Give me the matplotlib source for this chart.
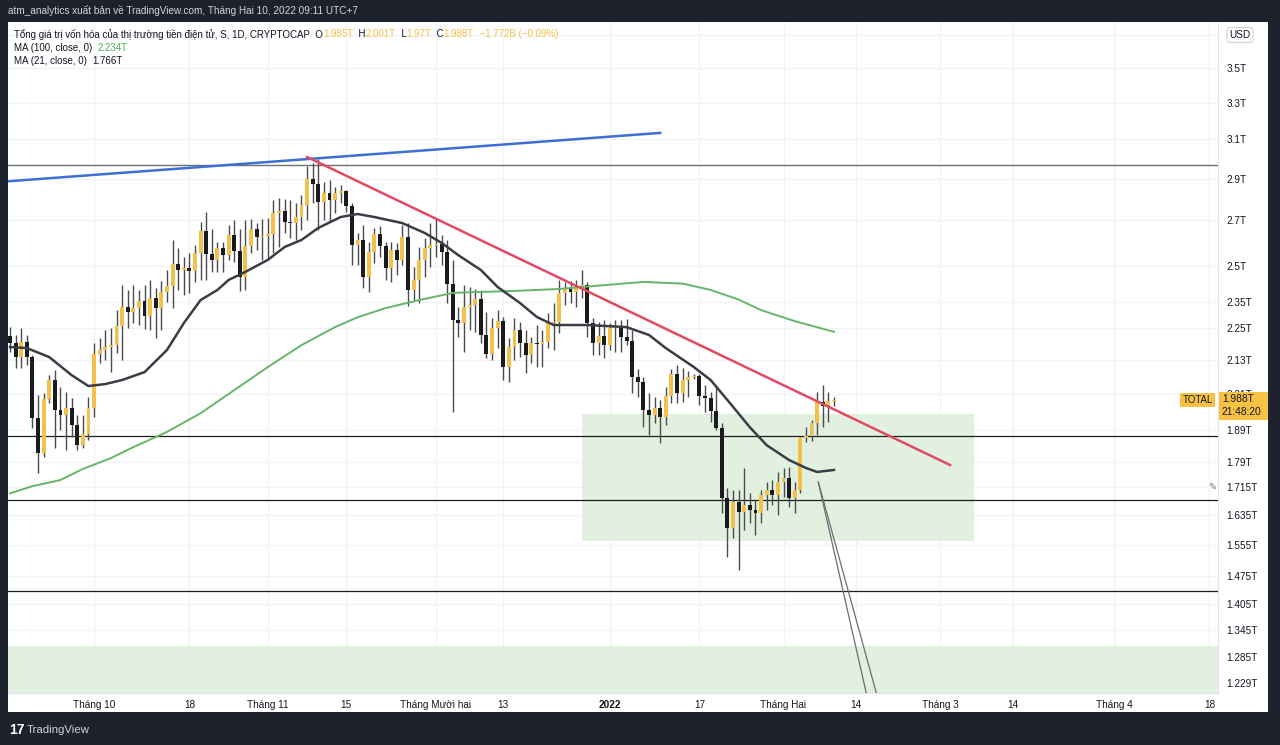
import matplotlib
matplotlib.use('Agg')
import matplotlib.pyplot as plt
import matplotlib.dates as mdates
import numpy as np
import pandas as pd
from matplotlib.patches import Rectangle
from matplotlib.ticker import NullLocator
from matplotlib.transforms import IdentityTransform

plt.rcParams['font.family'] = ['Liberation Sans', 'Noto Sans', 'DejaVu Sans']

W, H = 1280, 745

# daily candles, values in trillions USD
dates = pd.date_range('2021-09-16', '2022-02-10', freq='D')

opens = [2.218, 2.192, 2.140, 2.196, 2.140, 1.928, 1.818, 1.992, 2.058, 1.955,
         1.938, 1.962, 1.906, 1.842, 1.877, 1.962, 2.151, 2.166, 2.177, 2.184,
         2.256, 2.330, 2.310, 2.326, 2.354, 2.294, 2.366, 2.326, 2.391, 2.415,
         2.508, 2.482, 2.491, 2.478, 2.555, 2.652, 2.551, 2.525, 2.576, 2.546,
         2.634, 2.564, 2.452, 2.585, 2.662, 2.625, 2.630, 2.640, 2.735, 2.744,
         2.693, 2.688, 2.716, 2.772, 2.898, 2.873, 2.786, 2.830, 2.796, 2.830,
         2.840, 2.767, 2.590, 2.612, 2.452, 2.559, 2.639, 2.585, 2.491, 2.568,
         2.525, 2.625, 2.399, 2.440, 2.525, 2.576, 2.590, 2.594, 2.559, 2.425,
         2.279, 2.267, 2.330, 2.338, 2.362, 2.222, 2.151, 2.248, 2.275, 2.104,
         2.177, 2.241, 2.192, 2.148, 2.192, 2.188, 2.196, 2.267, 2.271, 2.387,
         2.407, 2.392, 2.411, 2.418, 2.267, 2.192, 2.218, 2.184, 2.249, 2.252,
         2.214, 2.199, 2.068, 2.051, 1.955, 1.938, 1.962, 1.932, 2.002, 2.079,
         2.013, 2.058, 2.069, 2.072, 2.002, 1.995, 1.952, 1.896, 1.683, 1.599,
         1.672, 1.643, 1.664, 1.649, 1.642, 1.692, 1.706, 1.692, 1.730, 1.742,
         1.683, 1.706, 1.864, 1.870, 1.912, 1.982, 1.968, 1.985]
highs = [2.252, 2.222, 2.249, 2.222, 2.148, 2.006, 2.013, 2.075, 2.093, 2.034,
         2.016, 1.995, 1.938, 1.938, 1.999, 2.192, 2.210, 2.241, 2.249, 2.318,
         2.419, 2.399, 2.419, 2.399, 2.419, 2.440, 2.407, 2.436, 2.482, 2.612,
         2.576, 2.538, 2.555, 2.590, 2.693, 2.740, 2.662, 2.603, 2.603, 2.679,
         2.702, 2.662, 2.702, 2.707, 2.688, 2.707, 2.711, 2.796, 2.806, 2.801,
         2.796, 2.782, 2.820, 2.962, 2.978, 3.000, 2.883, 2.893, 2.858, 2.870,
         2.844, 2.782, 2.643, 2.679, 2.603, 2.665, 2.674, 2.603, 2.603, 2.599,
         2.679, 2.688, 2.495, 2.581, 2.621, 2.688, 2.711, 2.634, 2.612, 2.525,
         2.330, 2.419, 2.411, 2.403, 2.399, 2.310, 2.287, 2.318, 2.291, 2.210,
         2.287, 2.271, 2.241, 2.214, 2.260, 2.241, 2.306, 2.346, 2.440, 2.432,
         2.436, 2.440, 2.482, 2.430, 2.287, 2.271, 2.279, 2.267, 2.279, 2.279,
         2.283, 2.241, 2.097, 2.069, 2.013, 1.999, 1.989, 2.034, 2.097, 2.111,
         2.100, 2.090, 2.080, 2.078, 2.041, 2.016, 2.041, 1.912, 1.712, 1.706,
         1.706, 1.772, 1.697, 1.678, 1.706, 1.730, 1.736, 1.760, 1.772, 1.775,
         1.730, 1.867, 1.900, 1.922, 2.016, 2.041, 2.016, 2.001]
lows = [2.159, 2.100, 2.100, 2.111, 1.896, 1.757, 1.805, 1.979, 1.833, 1.890,
        1.827, 1.868, 1.827, 1.833, 1.858, 1.932, 2.118, 2.129, 2.086, 2.155,
        2.129, 2.249, 2.267, 2.260, 2.245, 2.241, 2.210, 2.241, 2.350, 2.326,
        2.399, 2.379, 2.387, 2.432, 2.440, 2.440, 2.474, 2.474, 2.474, 2.525,
        2.516, 2.395, 2.399, 2.555, 2.568, 2.525, 2.534, 2.555, 2.581, 2.643,
        2.621, 2.612, 2.657, 2.702, 2.782, 2.657, 2.702, 2.693, 2.735, 2.780,
        2.740, 2.504, 2.504, 2.407, 2.391, 2.512, 2.538, 2.440, 2.432, 2.461,
        2.504, 2.334, 2.358, 2.346, 2.452, 2.495, 2.538, 2.504, 2.346, 1.948,
        2.214, 2.159, 2.241, 2.233, 2.192, 2.137, 2.129, 2.173, 2.058, 2.051,
        2.129, 2.140, 2.082, 2.118, 2.104, 2.104, 2.173, 2.166, 2.230, 2.338,
        2.346, 2.330, 2.366, 2.214, 2.148, 2.148, 2.137, 2.166, 2.159, 2.159,
        2.184, 2.013, 1.999, 1.899, 1.874, 1.912, 1.849, 1.906, 1.979, 1.979,
        1.982, 1.999, 2.060, 1.972, 1.948, 1.915, 1.890, 1.641, 1.523, 1.572,
        1.489, 1.594, 1.613, 1.580, 1.613, 1.649, 1.664, 1.635, 1.686, 1.658,
        1.641, 1.697, 1.852, 1.855, 1.874, 1.899, 1.915, 1.970]
closes = [2.192, 2.140, 2.196, 2.140, 1.928, 1.818, 1.992, 2.058, 1.955, 1.938,
          1.962, 1.906, 1.842, 1.877, 1.962, 2.151, 2.166, 2.177, 2.184, 2.256,
          2.330, 2.310, 2.326, 2.354, 2.294, 2.366, 2.326, 2.391, 2.415, 2.508,
          2.482, 2.491, 2.478, 2.555, 2.652, 2.551, 2.525, 2.576, 2.546, 2.634,
          2.564, 2.452, 2.585, 2.662, 2.625, 2.630, 2.640, 2.735, 2.744, 2.693,
          2.688, 2.716, 2.772, 2.898, 2.873, 2.786, 2.830, 2.796, 2.830, 2.840,
          2.767, 2.590, 2.612, 2.452, 2.559, 2.639, 2.585, 2.491, 2.568, 2.525,
          2.625, 2.399, 2.440, 2.525, 2.576, 2.590, 2.594, 2.559, 2.425, 2.279,
          2.267, 2.330, 2.338, 2.362, 2.222, 2.151, 2.248, 2.275, 2.104, 2.177,
          2.241, 2.192, 2.148, 2.192, 2.188, 2.196, 2.267, 2.271, 2.387, 2.407,
          2.392, 2.411, 2.418, 2.267, 2.192, 2.218, 2.184, 2.249, 2.252, 2.214,
          2.199, 2.068, 2.051, 1.955, 1.938, 1.962, 1.932, 2.002, 2.079, 2.013,
          2.058, 2.069, 2.072, 2.002, 1.995, 1.952, 1.896, 1.683, 1.599, 1.672,
          1.643, 1.664, 1.649, 1.642, 1.692, 1.706, 1.692, 1.730, 1.742, 1.683,
          1.706, 1.864, 1.870, 1.912, 1.982, 1.968, 1.985, 1.988]

# moving averages (index into dates, value)
ma21_idx = [0, 3, 7, 11, 14, 17, 20, 24, 28, 31, 34, 37, 39, 42, 46, 49, 52, 55, 59, 62,
            65, 70, 74, 77, 80, 84, 87, 91, 94, 97, 103, 110, 114, 117, 122, 125, 128, 132,
            135, 139, 142, 144, 147]
ma21_val = [2.177, 2.173, 2.140, 2.075, 2.037, 2.044, 2.058, 2.086, 2.166, 2.267,
            2.358, 2.399, 2.440, 2.474, 2.525, 2.581, 2.612, 2.666, 2.716, 2.730,
            2.716, 2.688, 2.643, 2.599, 2.545, 2.482, 2.411, 2.346, 2.291, 2.260,
            2.260, 2.252, 2.222, 2.173, 2.104, 2.058, 1.989, 1.899, 1.842, 1.796,
            1.772, 1.760, 1.766]
ma100_idx = [0, 4, 9, 13, 18, 22, 28, 34, 40, 46, 52, 58, 62, 67, 73, 79, 84, 90, 98,
             102, 113, 120, 125, 130, 134, 140, 147]
ma100_val = [1.697, 1.718, 1.736, 1.769, 1.802, 1.836, 1.884, 1.945, 2.023, 2.104,
             2.184, 2.252, 2.290, 2.326, 2.358, 2.387, 2.391, 2.395, 2.403, 2.411,
             2.432, 2.425, 2.399, 2.360, 2.318, 2.275, 2.234]

# drawings on the chart
blue_line_dates = ['2021-09-15 00:00', '2022-01-10 00:00']
blue_line_prices = [2.885, 3.134]
red_line_dates = ['2021-11-08 00:00', '2022-03-02 17:00']
red_line_prices = [3.008, 1.781]
top_level = 2.967
levels = [1.871, 1.678, 1.437]
zone_dates = ['2021-12-27 00:00', '2022-03-07 00:00']
zone_prices = [1.564, 1.942]
low_zone_prices = [1.0, 1.309]
path_start = ('2022-02-07 05:00', 1.730)
path_ends = [('2022-02-16 03:00', 1.19), ('2022-02-18 00:00', 1.19)]

price_ticks = [3.7, 3.5, 3.3, 3.1, 2.9, 2.7, 2.5, 2.35, 2.25, 2.13, 2.01, 1.89, 1.79,
               1.715, 1.635, 1.555, 1.475, 1.405, 1.345, 1.285, 1.229]
time_ticks = ['2021-10-01', '2021-10-18', '2021-11-01', '2021-11-15', '2021-12-01',
              '2021-12-13', '2022-01-01', '2022-01-17', '2022-02-01', '2022-02-14',
              '2022-03-01', '2022-03-14', '2022-04-01', '2022-04-18']
time_labels = ['Tháng 10', '18', 'Tháng 11', '15', 'Tháng Mười hai', '13', '2022', '17',
               'Tháng Hai', '14', 'Tháng 3', '14', 'Tháng 4', '18']

DARK = '#131722'
YEL = '#f5c244'
BG = '#1e222d'


def fx(px):
    return px / W


def fy(py):
    return 1 - py / H


def to_num(strings):
    return mdates.date2num(pd.to_datetime(strings, format='ISO8601'))


def pieces(fig, x, y, parts, size=7.0):
    r = fig.canvas.get_renderer()
    for s, c in parts:
        t = fig.text(fx(x), fy(y), s, color=c, fontsize=size, va='center', ha='left')
        bb = t.get_window_extent(renderer=r)
        x = bb.x1


fig = plt.figure(figsize=(12.8, 7.45), dpi=100, facecolor=BG)
fig.add_artist(Rectangle((fx(8), fy(712)), fx(1260), 690 / H, transform=fig.transFigure,
                         facecolor='white', edgecolor='none', zorder=-5))

ax = fig.add_axes([fx(8), fy(693), fx(1210), 671 / H])
ax.set_facecolor('white')
ax.set_yscale('log')

x = mdates.date2num(dates)
o = np.array(opens)
h = np.array(highs)
l = np.array(lows)
c = np.array(closes)
up = c >= o
body_lo = np.minimum(o, c)
body_h = np.maximum(np.abs(c - o), 0.004)
colors = np.where(up, '#f3c04b', '#1b1b1f')

ax.vlines(x, l, h, color='#4a4a4f', lw=1.0, zorder=4)
ax.bar(x, body_h, bottom=body_lo, width=0.7, color=colors, edgecolor='none', zorder=5)

ax.plot(x[ma100_idx], ma100_val, color='#66b56a', lw=1.4, zorder=6)
ax.plot(x[ma21_idx], ma21_val, color='#3a3d45', lw=1.8, zorder=6)

ax.plot(to_num(blue_line_dates), blue_line_prices, color='#3f6fd0', lw=1.8, zorder=7)
ax.plot(to_num(red_line_dates), red_line_prices, color='#e04a63', lw=1.8, zorder=7)

ax.axhline(top_level, color='#6f7075', lw=1.0, zorder=3)
for lv in levels:
    ax.axhline(lv, color='#1e1e1e', lw=0.9, zorder=3)

zd = to_num(zone_dates)
ax.add_patch(Rectangle((zd[0], zone_prices[0]), zd[1] - zd[0], zone_prices[1] - zone_prices[0],
                       facecolor='#e2f1df', edgecolor='none', zorder=1))

xmin = x[0] - 0.36
xmax = xmin + 1210 / 5.605
ax.add_patch(Rectangle((xmin, low_zone_prices[0]), xmax - xmin,
                       low_zone_prices[1] - low_zone_prices[0],
                       facecolor='#e2f1df', edgecolor='none', zorder=1))

ps = mdates.date2num(pd.Timestamp(path_start[0]))
for d, p in path_ends:
    pe = mdates.date2num(pd.Timestamp(d))
    ax.plot([ps, pe], [path_start[1], p], color='#6a6d75', lw=0.9, zorder=7)

ax.set_xlim(xmin, xmax)
ax.set_ylim(1.2082, 3.785)

ax.yaxis.tick_right()
ax.set_yticks(price_ticks)
ax.set_yticklabels([f'{v:g}T' for v in price_ticks])
ax.yaxis.set_minor_locator(NullLocator())
ax.set_xticks(to_num(time_ticks))
ax.set_xticklabels(time_labels)
ax.get_xticklabels()[6].set_fontweight('bold')
ax.tick_params(axis='y', length=0, pad=6, labelsize=7.2, labelcolor=DARK)
ax.tick_params(axis='x', length=0, pad=5, labelsize=7.2, labelcolor=DARK)
ax.grid(True, color='#f2f3f8', lw=1.0, zorder=0)
ax.set_axisbelow(True)
for s in ['top', 'left']:
    ax.spines[s].set_visible(False)
for s in ['right', 'bottom']:
    ax.spines[s].set_color('#e0e3eb')

# top bar
fig.text(fx(8), fy(11), 'atm_analytics xuất bản về TradingView.com, Tháng Hai 10, 2022 09:11 UTC+7',
         color='#d1d4dc', fontsize=7.2, va='center', ha='left')

# legend
pieces(fig, 14, 34, [('Tổng giá trị vốn hóa của thị trường tiền điện tử, S, 1D, CRYPTOCAP  O', DARK),
                     ('1.985T', YEL), ('  H', DARK), ('2.001T', YEL), ('  L', DARK),
                     ('1.97T', YEL), ('  C', DARK), ('1.988T', YEL), ('  −1.772B (−0.09%)', YEL)])
pieces(fig, 14, 48, [('MA (100, close, 0)  ', DARK), ('2.234T', '#4caf50')])
pieces(fig, 14, 61, [('MA (21, close, 0)  ', DARK), ('1.766T', DARK)])

# last price label
fig.canvas.draw()
ly = ax.transData.transform((x[-1], closes[-1]))[1]
fig.add_artist(Rectangle((1219, ly - 20), 49, 28, transform=IdentityTransform(),
                         facecolor=YEL, edgecolor='none', zorder=10))
fig.add_artist(Rectangle((1180, ly - 7), 35, 14, transform=IdentityTransform(),
                         facecolor=YEL, edgecolor='none', zorder=10))
fig.text(1197.5 / W, ly / H, 'TOTAL', color=DARK, fontsize=7, ha='center', va='center', zorder=11)
fig.text(1222 / W, (ly + 1) / H, f'{closes[-1]:.3f}T', color=DARK, fontsize=7.4,
         ha='left', va='center', zorder=11)
fig.text(1222 / W, (ly - 12) / H, '21:48:20', color=DARK, fontsize=7.4,
         ha='left', va='center', zorder=11)

# USD box
fig.text(fx(1240), fy(35), 'USD', color=DARK, fontsize=7.2, ha='center', va='center', zorder=11,
         bbox=dict(boxstyle='round,pad=0.25', facecolor='white', edgecolor='#d1d4dc', lw=0.8))

# pencil icon near the price axis
fig.text(fx(1212), fy(487), '✎', color='#787b86', fontsize=7, family='DejaVu Sans',
         ha='center', va='center')

# footer logo
fig.text(fx(9), fy(730), '17', color='white', fontsize=10, fontweight='bold',
         ha='left', va='center')
fig.text(fx(27), fy(730), 'TradingView', color='#d1d4dc', fontsize=8.2, ha='left', va='center')

fig.savefig('out.png', dpi=100, facecolor=BG)
